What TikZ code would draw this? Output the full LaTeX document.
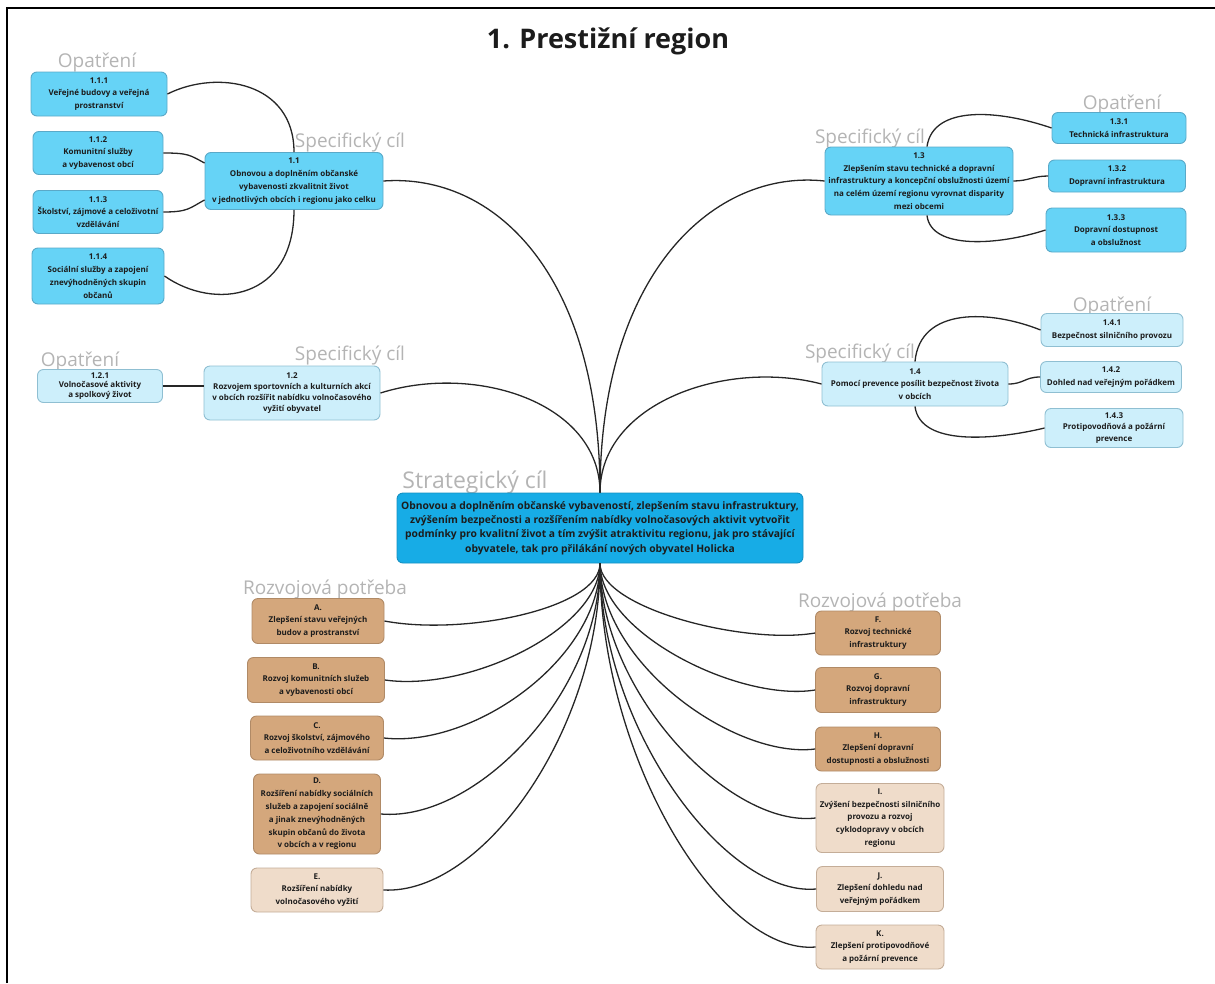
\documentclass[tikz,border=0pt]{standalone}
\usepackage{fontspec}
\setmainfont{Open Sans}
\definecolor{cyanfill}{HTML}{66D3F6}
\definecolor{cyandraw}{HTML}{5AA9C8}
\definecolor{paleblue}{HTML}{CDEFFB}
\definecolor{paledraw}{HTML}{8FBFD2}
\definecolor{ctrfill}{HTML}{17ACE6}
\definecolor{ctrdraw}{HTML}{1590C2}
\definecolor{tandark}{HTML}{D4A77C}
\definecolor{tandarkdraw}{HTML}{B08A66}
\definecolor{tanlight}{HTML}{EFDCCA}
\definecolor{tanlightdraw}{HTML}{C4AD98}
\definecolor{lblgray}{HTML}{B4B4B4}
\definecolor{txt}{HTML}{1C1C1C}
\begin{document}
\begin{tikzpicture}[x=1pt,y=-1pt,
  box/.style={rounded corners=6pt, line width=0.9pt, align=center, inner sep=2pt, text=txt,
    font=\fontsize{8}{12.8}\selectfont\bfseries},
  cbox/.style={box, fill=cyanfill, draw=cyandraw},
  pbox/.style={box, fill=paleblue, draw=paledraw},
  dbox/.style={box, fill=tandark, draw=tandarkdraw},
  lbox/.style={box, fill=tanlight, draw=tanlightdraw},
  ctrbox/.style={box, fill=ctrfill, draw=ctrdraw, font=\fontsize{10.3}{14.3}\selectfont\bfseries},
  lbl/.style={text=lblgray, inner sep=0pt, anchor=base, font=\fontsize{19}{22}\selectfont},
  lblbig/.style={text=lblgray, inner sep=0pt, anchor=base, font=\fontsize{23}{26}\selectfont},
  ttl/.style={inner sep=0pt, anchor=base, text=txt, font=\fontsize{27}{30}\selectfont\bfseries},
  conn/.style={draw=black!85, line width=1.3pt},
  wh/.style 2 args={minimum width=#1pt, minimum height=#2pt}
]
\useasboundingbox (0,0) rectangle (1215,983);
\draw[line width=2.5pt] (7,983) -- (7,8) -- (1215,8);

\node[ttl] (title) at (608,48) {1. Prestižní region};

% labels
\node[lbl] (lop1) at (97,67) {Opatření};
\node[lbl] (lsc1) at (350,147) {Specifický cíl};
\node[lbl] (lop3) at (1122,109) {Opatření};
\node[lbl] (lsc3) at (870,143) {Specifický cíl};
\node[lbl] (lop2) at (80,366) {Opatření};
\node[lbl] (lsc2) at (350,360) {Specifický cíl};
\node[lbl] (lop4) at (1112,311) {Opatření};
\node[lbl] (lsc4) at (860,358) {Specifický cíl};
\node[lblbig] (lstr) at (475,488) {Strategický cíl};
\node[lbl] (lrpL) at (325,594) {Rozvojová potřeba};
\node[lbl] (lrpR) at (880,607) {Rozvojová potřeba};

% 1.1
\node[cbox, wh={136}{44}] (m111) at (99,94) {1.1.1\\Veřejné budovy a veřejná\\prostranství};
\node[cbox, wh={130}{43}] (m112) at (98,153) {1.1.2\\Komunitní služby\\a vybavenost obcí};
\node[cbox, wh={130}{43}] (m113) at (98,212) {1.1.3\\Školství, zájmové a celoživotní\\vzdělávání};
\node[cbox, wh={132}{56}] (m114) at (98,276) {1.1.4\\Sociální služby a zapojení\\znevýhodněných skupin\\občanů};
\node[cbox, wh={178}{57}] (s11) at (294,181) {1.1\\Obnovou a doplněním občanské\\vybavenosti zkvalitnit život\\v jednotlivých obcích i regionu jako celku};

% 1.2
\node[pbox, wh={125}{33}, inner sep=1pt, font=\fontsize{8}{9.6}\selectfont\bfseries] (m121) at (100,386) {1.2.1\\Volnočasové aktivity\\a spolkový život};
\node[pbox, wh={176}{54}, font=\fontsize{8}{10.8}\selectfont\bfseries] (s12) at (292,393) {1.2\\Rozvojem sportovních a kulturních akcí\\v obcích rozšířit nabídku volnočasového\\vyžití obyvatel};

% 1.3
\node[cbox, wh={134}{31}] (m131) at (1119,128) {1.3.1\\Technická infrastruktura};
\node[cbox, wh={137}{32}] (m132) at (1117,176) {1.3.2\\Dopravní infrastruktura};
\node[cbox, wh={140}{44}] (m133) at (1116,230) {1.3.3\\Dopravní dostupnost\\a obslužnost};
\node[cbox, wh={188}{68}] (s13) at (919,181) {1.3\\Zlepšením stavu technické a dopravní\\infrastruktury a koncepční obslužnosti území\\na celém území regionu vyrovnat disparity\\mezi obcemi};

% 1.4
\node[pbox, wh={142}{33}] (m141) at (1112,330) {1.4.1\\Bezpečnost silničního provozu};
\node[pbox, wh={141}{31}] (m142) at (1111,377) {1.4.2\\Dohled nad veřejným pořádkem};
\node[pbox, wh={138}{39}, font=\fontsize{8}{11.8}\selectfont\bfseries] (m143) at (1114,428) {1.4.3\\Protipovodňová a požární\\prevence};
\node[pbox, wh={186}{44}] (s14) at (915,384) {1.4\\Pomocí prevence posílit bezpečnost života\\v obcích};

% centre
\node[ctrbox, wh={406}{70}] (ctr) at (600,528) {Obnovou a doplněním občanské vybaveností, zlepšením stavu infrastruktury,\\zvýšením bezpečnosti a rozšířením nabídky volnočasových aktivit vytvořit\\podmínky pro kvalitní život a tím zvýšit atraktivitu regionu, jak pro stávající\\obyvatele, tak pro přilákání nových obyvatel Holicka};

% needs left
\node[dbox, wh={132}{45}] (nA) at (318,621) {A.\\Zlepšení stavu veřejných\\budov a prostranství};
\node[dbox, wh={137}{45}] (nB) at (316,680) {B.\\Rozvoj komunitních služeb\\a vybavenosti obcí};
\node[dbox, wh={133}{44}] (nC) at (317,738) {C.\\Rozvoj školství, zájmového\\a celoživotního vzdělávání};
\node[dbox, wh={127}{80}] (nD) at (317,814) {D.\\Rozšíření nabídky sociálních\\služeb a zapojení sociálně\\a jinak znevýhodněných\\skupin občanů do života\\v obcích a v regionu};
\node[lbox, wh={132}{44}] (nE) at (317,890) {E.\\Rozšíření nabídky\\volnočasového vyžití};

% needs right
\node[dbox, wh={125}{44}] (nF) at (878,633) {F.\\Rozvoj technické\\infrastruktury};
\node[dbox, wh={125}{45}] (nG) at (878,690) {G.\\Rozvoj dopravní\\infrastruktury};
\node[dbox, wh={125}{44}] (nH) at (878,749) {H.\\Zlepšení dopravní\\dostupnosti a obslužnosti};
\node[lbox, wh={128}{69}] (nI) at (880,818) {I.\\Zvýšení bezpečnosti silničního\\provozu a rozvoj\\cyklodopravy v obcích\\regionu};
\node[lbox, wh={127}{45}] (nJ) at (880,889) {J.\\Zlepšení dohledu nad\\veřejným pořádkem};
\node[lbox, wh={128}{44}] (nK) at (880,947) {K.\\Zlepšení protipovodňové\\a požární prevence};

% connectors 1.1
\draw[conn] (m111.east) .. controls +(50,-25) and +(0,-70) .. (s11.north);
\draw[conn] (m112.east) .. controls +(25,0) and +(-15,-8) .. ([yshift=18pt]s11.west);
\draw[conn] (m113.east) .. controls +(25,0) and +(-15,8) .. ([yshift=-19pt]s11.west);
\draw[conn] (m114.east) .. controls +(50,35) and +(0,90) .. (s11.south);
% 1.2
\draw[conn] (m121.east) -- (s12.west |- m121.east);
% 1.3
\draw[conn] ([xshift=8pt]s13.north) .. controls +(6,-42) and +(-52,-18) .. (m131.west);
\draw[conn] (s13.east) .. controls +(15,0) and +(-15,0) .. (m132.west);
\draw[conn] ([xshift=8pt]s13.south) .. controls +(4,35) and +(-46,15) .. (m133.west);
% 1.4
\draw[conn] (s14.north) .. controls +(5,-55) and +(-50,-20) .. (m141.west);
\draw[conn] (s14.east) .. controls +(15,0) and +(-15,0) .. (m142.west);
\draw[conn] (s14.south) .. controls +(5,40) and +(-50,12) .. (m143.west);

% to centre top
\draw[conn] (s11.east) .. controls +(110,-8) and +(0,-220) .. (ctr.north);
\draw[conn] (s12.east) .. controls +(95,-30) and +(0,-90) .. (ctr.north);
\draw[conn] (s13.west) .. controls +(-110,-12) and +(0,-220) .. (ctr.north);
\draw[conn] (s14.west) .. controls +(-95,-25) and +(0,-90) .. (ctr.north);

% to centre bottom
\draw[conn] (ctr.south) .. controls +(0,45) and +(80,15) .. (nA.east);
\draw[conn] (ctr.south) .. controls +(0,65) and +(85,12) .. (nB.east);
\draw[conn] (ctr.south) .. controls +(0,95) and +(90,10) .. (nC.east);
\draw[conn] (ctr.south) .. controls +(0,130) and +(95,8) .. (nD.east);
\draw[conn] (ctr.south) .. controls +(0,165) and +(100,5) .. (nE.east);
\draw[conn] (ctr.south) .. controls +(0,45) and +(-70,12) .. (nF.west);
\draw[conn] (ctr.south) .. controls +(0,70) and +(-75,12) .. (nG.west);
\draw[conn] (ctr.south) .. controls +(0,100) and +(-80,10) .. (nH.west);
\draw[conn] (ctr.south) .. controls +(0,130) and +(-85,10) .. (nI.west);
\draw[conn] (ctr.south) .. controls +(0,165) and +(-90,8) .. (nJ.west);
\draw[conn] (ctr.south) .. controls +(0,195) and +(-95,8) .. (nK.west);
\end{tikzpicture}
\end{document}
